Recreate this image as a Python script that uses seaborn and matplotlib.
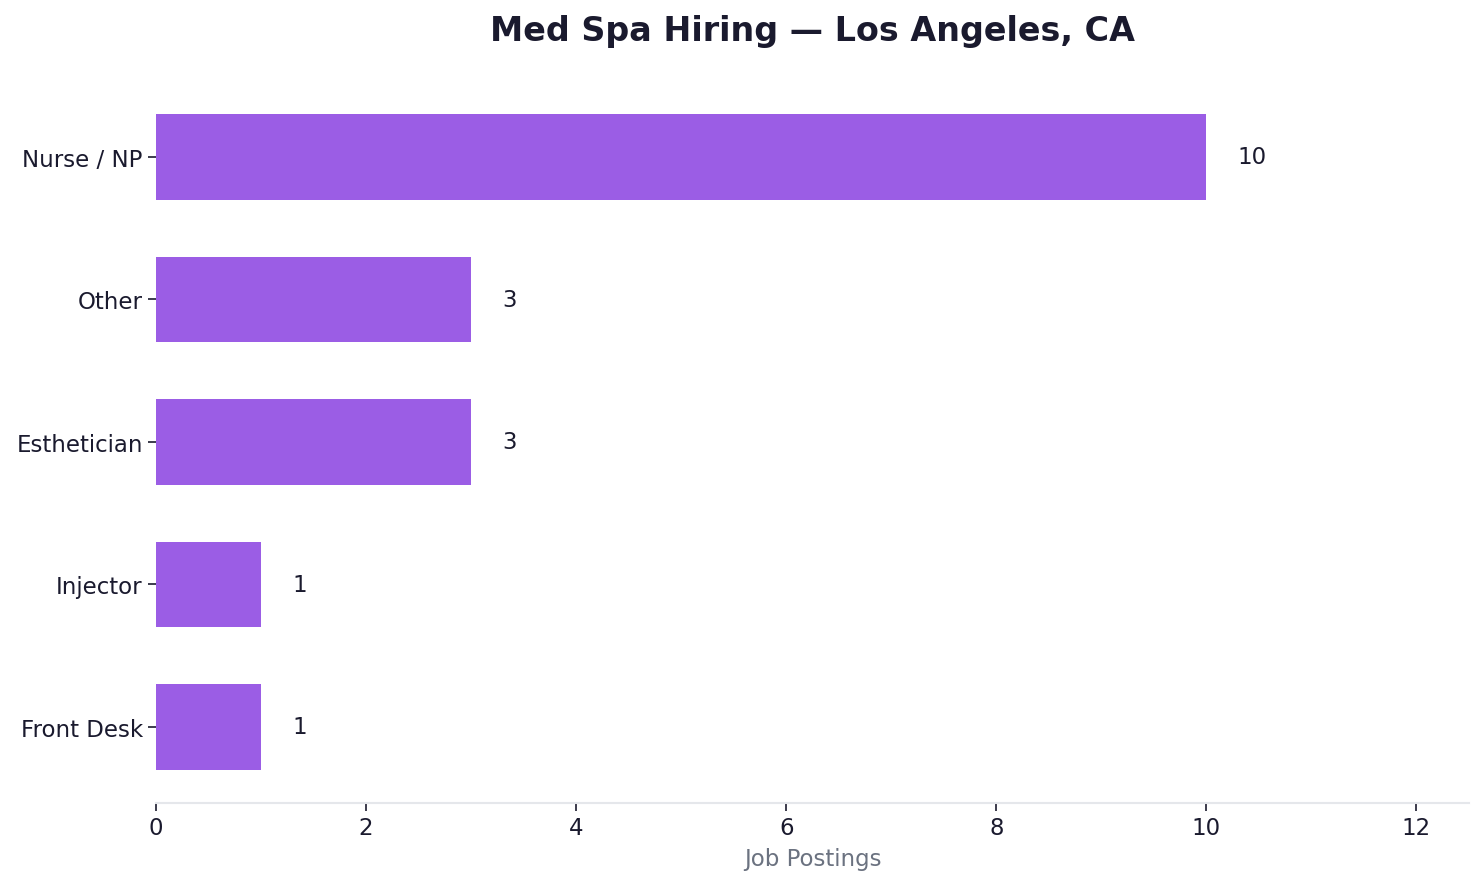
import pandas as pd
import matplotlib.pyplot as plt
import seaborn as sns

# Job postings by role
ROLES = ["Nurse / NP", "Other", "Esthetician", "Injector", "Front Desk"]
POSTINGS = [10, 3, 3, 1, 1]

BAR_COLOR = "#9B5DE5"
TEXT_COLOR = "#1A1A2E"
MUTED = "#6B7280"

sns.set_style("white")
plt.rcParams["font.family"] = ["DejaVu Sans"]

df = pd.DataFrame({"role": ROLES, "postings": POSTINGS})

fig, ax = plt.subplots(figsize=(14.84, 8.87), dpi=100)
fig.subplots_adjust(left=0.1051, right=0.9899, top=0.9072, bottom=0.0941)

sns.barplot(data=df, y="role", x="postings", orient="h", color=BAR_COLOR,
            width=0.6, saturation=1, linewidth=0, ax=ax)

for i, v in enumerate(POSTINGS):
    ax.text(v + 0.3, i, f"{v}", va="center", ha="left",
            fontsize=16.5, color=TEXT_COLOR)

ax.set_xlim(0, 12.5)
ax.set_ylim(len(ROLES) - 1 + 0.53, -0.53)
ax.set_title("Med Spa Hiring — Los Angeles, CA", fontsize=24,
             fontweight="bold", color=TEXT_COLOR, pad=30)
ax.set_xlabel("Job Postings", fontsize=16.5, color=MUTED, labelpad=6)
ax.set_ylabel("")
ax.tick_params(axis="both", labelsize=16.5, colors=TEXT_COLOR,
               length=6, width=1.2, left=True, bottom=True)

for side in ["top", "right", "left"]:
    ax.spines[side].set_visible(False)
ax.spines["bottom"].set_color("#E5E7EB")
ax.spines["bottom"].set_linewidth(1.5)

plt.savefig("out.png", dpi=100)
plt.close()
